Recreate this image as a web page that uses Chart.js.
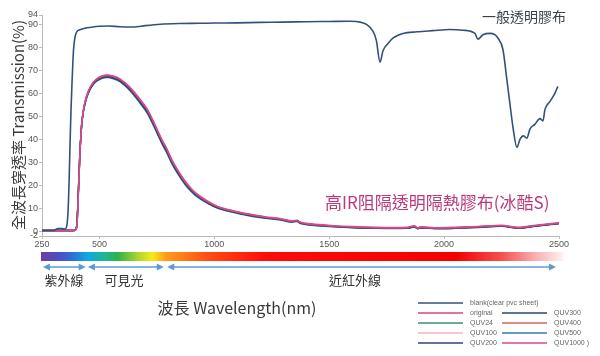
<!DOCTYPE html>
<html><head><meta charset="utf-8">
<script src="https://cdn.jsdelivr.net/npm/chart.js@4/dist/chart.umd.min.js"></script>
<style>html,body{margin:0;padding:0;background:#fff}</style>
</head><body>
<canvas id="c" width="600" height="356"></canvas>
<script>
const xTicks=[250,500,1000,1500,2000,2500];
const yTicks=[-2,0,10,20,30,40,50,60,70,80,90,94];

const blankWl=[250,300,320,337,350,358,363,368,372,376,380,385,389,395,402,415,440,459,500,540,589,650,700,766,850,937,1000,1100,1200,1300,1400,1500,1590,1640,1664,1690,1705,1721,1734,1755,1777,1821,1882,1950,2025,2082,2134,2147,2169,2199,2220,2234,2256,2273,2287,2300,2317,2330,2345,2360,2374,2395,2417,2430,2439,2461,2482,2495];
const blankT=[0.4,0.4,1.2,1.2,1.0,2.5,8,22,38,52,63,75,81,85,86.8,87.6,88.3,88.6,89.1,89.2,88.9,88.8,89.4,90,90.3,90.4,90.5,90.6,90.8,90.9,91.1,91.2,91.3,90.8,89.8,87,83,73.5,78.5,81.5,84,86,86.7,87.2,87.7,87.4,86,83.5,85.4,86,85.5,84,79,66,55,45,36.5,40,41.5,40.5,44.5,46.5,49,48,53,56.5,60,63];

const irWl=[250,300,350,385,392,398,401,404,408,412,415,419,423,430,437,447,459,473,488,510,535,560,589,615,646,675,707,730,750,772,794,815,837,860,881,910,938,975,1012,1060,1112,1160,1220,1286,1340,1360,1375,1420,1520,1600,1700,1780,1840,1870,1885,1900,1960,2050,2150,2250,2320,2400,2500];
const original=[0.4,0.4,0.4,0.4,0.5,1,2,6,16,26,34,41,47,52.5,56,59.5,62.3,64.5,66,67.2,67.7,67.2,66,64,60.8,57.2,52.9,48.5,44.2,39.5,35.4,30.8,26.9,23.3,20.4,17.2,15,12.6,10.8,9.3,8.1,7.2,6.2,5.4,4.4,4.7,3.8,3.1,2.3,1.9,1.6,1.5,1.6,2.3,1.4,1.8,1.4,1.6,2.0,2.5,1.6,2.5,3.6];
const quv24=[0.4,0.4,0.4,0.4,0.5,1.1,2.2,6.3,16.3,26.3,34.1,41,46.9,52.3,55.8,59.3,62.1,64.3,65.8,67,67.4,66.9,65.7,63.7,60.5,56.8,52.5,48.1,43.8,39.1,35,30.5,26.6,23,20.1,17,14.8,12.4,10.6,9.2,8,7.1,6.1,5.3,4.3,4.6,3.7,3,2.2,1.8,1.5,1.4,1.5,2.2,1.3,1.7,1.3,1.5,1.9,2.4,1.5,2.4,3.5];
const quv100=[0.4,0.4,0.4,0.4,0.5,1,2.1,6.1,16.1,26.1,34,41,47,52.4,55.9,59.4,62.2,64.4,65.9,67.1,67.6,67.1,65.9,63.9,60.7,57,52.7,48.3,44,39.3,35.2,30.7,26.8,23.2,20.3,17.1,14.9,12.5,10.7,9.2,8,7.1,6.1,5.3,4.4,4.7,3.8,3.1,2.3,1.9,1.6,1.5,1.6,2.3,1.4,1.8,1.4,1.6,2.0,2.5,1.6,2.5,3.6];
const quv200=[0.4,0.4,0.4,0.4,0.5,1.1,2.3,6.6,16.6,26.6,34.3,41,46.8,52.2,55.7,59.2,62,64.2,65.7,66.9,67.3,66.8,65.6,63.5,60.3,56.6,52.3,47.9,43.6,38.9,34.8,30.3,26.4,22.8,20,16.8,14.6,12.3,10.5,9.1,7.9,7,6,5.2,4.3,4.6,3.7,3,2.2,1.8,1.5,1.4,1.5,2.1,1.3,1.7,1.3,1.5,1.9,2.4,1.5,2.4,3.5];
const quv300=[0.4,0.4,0.4,0.4,0.5,1.2,2.5,7,17,27,34.5,41,46.5,52,55.5,59,61.8,64,65.5,66.7,67.1,66.6,65.3,63.2,60,56.3,51.9,47.5,43.2,38.5,34.4,29.9,26,22.5,19.7,16.6,14.4,12.1,10.3,8.9,7.7,6.8,5.9,5.1,4.2,4.5,3.6,2.9,2.1,1.7,1.4,1.3,1.4,2.0,1.2,1.6,1.2,1.4,1.8,2.3,1.4,2.3,3.4];
const quv400=[0.4,0.4,0.4,0.4,0.5,0.9,1.9,5.8,15.6,25.6,33.6,40.8,46.9,52.4,56,59.5,62.3,64.5,66,67.2,67.7,67.2,66,64,60.8,57.1,52.8,48.4,44.1,39.4,35.3,30.8,26.9,23.3,20.4,17.2,15,12.6,10.8,9.3,8.1,7.2,6.2,5.4,4.4,4.7,3.8,3.1,2.3,1.9,1.6,1.5,1.6,2.3,1.4,1.8,1.4,1.6,2.0,2.5,1.6,2.5,3.6];
const quv500=[0.4,0.4,0.4,0.4,0.6,1.3,2.8,7.5,17.5,27.5,35,41.2,46.5,51.8,55.2,58.7,61.5,63.7,65.2,66.4,66.8,66.3,65,62.9,59.6,55.9,51.5,47,42.7,38,33.9,29.4,25.6,22.1,19.3,16.3,14.1,11.9,10.1,8.7,7.5,6.6,5.7,4.9,4.0,4.3,3.4,2.7,2.0,1.6,1.3,1.2,1.3,1.9,1.1,1.5,1.1,1.3,1.7,2.2,1.3,2.2,3.3];
const quv1000=[0.4,0.4,0.4,0.4,0.5,0.9,1.8,5.5,15.2,25.2,33.3,40.6,46.8,52.5,56.2,59.8,62.6,64.8,66.3,67.5,68,67.5,66.3,64.3,61.2,57.6,53.3,48.9,44.6,39.9,35.8,31.2,27.3,23.7,20.8,17.5,15.3,12.9,11,9.5,8.3,7.4,6.4,5.6,4.6,4.9,4,3.3,2.5,2.1,1.8,1.7,1.8,2.5,1.6,2,1.6,1.8,2.2,2.7,1.8,2.7,3.8];

const seriesNames=['blank(clear pvc sheet)','original','QUV24','QUV100','QUV200','QUV300','QUV400','QUV500','QUV1000 )'];
const seriesColors=['#34507c','#d6457f','#3a8f75','#f2b3bf','#3c3f7a','#254a6e','#d9606a','#3a78b0','#d84a8a'];
const irSeries=[original,quv24,quv100,quv200,quv300,quv400,quv500,quv1000];
const irOrder=[2,8,7,4,3,6,5,1];

const bandLabels=['紫外線','可見光','近紅外線'];
const bandRanges=[[254,440],[450,780],[795,2487]];
const noteBlank='一般透明膠布';
const noteIR='高IR阻隔透明隔熱膠布(冰酷S)';
const xTitle='波長 Wavelength(nm)';
const yTitle='全波長穿透率 Transmission(%)';

const CJK='"Noto Sans CJK TC","Noto Sans CJK SC",sans-serif';

const datasets=[{
  label:seriesNames[0],
  data:blankWl.map((w,i)=>({x:w,y:blankT[i]})),
  borderColor:seriesColors[0],borderWidth:1.6,pointRadius:0,cubicInterpolationMode:'monotone',order:0
}];
irSeries.forEach((arr,k)=>{
  datasets.push({
    label:seriesNames[k+1],
    data:irWl.map((w,i)=>({x:w,y:arr[i]})),
    borderColor:seriesColors[k+1],borderWidth:1.4,pointRadius:0,cubicInterpolationMode:'monotone',order:irOrder[k]
  });
});

const extras={
  id:'extras',
  afterDraw(chart){
    const ctx=chart.ctx, xs=chart.scales.x;
    ctx.save();
    const x0=xs.getPixelForValue(250)-1, x1=xs.getPixelForValue(2520);
    const g=ctx.createLinearGradient(x0,0,x1,0);
    const stops=[[250,'#6b3fa0'],[330,'#4b4fc8'],[380,'#2f6fd6'],[450,'#10a8e0'],[520,'#1fb59a'],[580,'#2db34a'],[675,'#b6d82a'],[730,'#f5ea1a'],[790,'#ff9a1a'],[980,'#ff4a14'],[1230,'#ff0a0a'],[2050,'#f50000'],[2250,'#f55050'],[2400,'#f9b0b0'],[2520,'#fff4f4']];
    stops.forEach(s=>g.addColorStop((xs.getPixelForValue(s[0])-x0)/(x1-x0),s[1]));
    ctx.fillStyle=g;
    ctx.fillRect(x0,252,x1-x0,9);
    ctx.strokeStyle='#5b9bd5';ctx.fillStyle='#5b9bd5';ctx.lineWidth=1.5;
    const ay=267;
    bandRanges.forEach(r=>{
      const a=xs.getPixelForValue(r[0]), b=xs.getPixelForValue(r[1]);
      ctx.beginPath();ctx.moveTo(a+3,ay);ctx.lineTo(b-3,ay);ctx.stroke();
      ctx.beginPath();ctx.moveTo(a,ay);ctx.lineTo(a+7,ay-3.5);ctx.lineTo(a+7,ay+3.5);ctx.closePath();ctx.fill();
      ctx.beginPath();ctx.moveTo(b,ay);ctx.lineTo(b-7,ay-3.5);ctx.lineTo(b-7,ay+3.5);ctx.closePath();ctx.fill();
    });
    ctx.fillStyle='#333';ctx.font='13px '+CJK;ctx.textBaseline='middle';ctx.textAlign='center';
    ctx.fillText(bandLabels[0],64,280);
    ctx.fillText(bandLabels[1],124,280);
    ctx.fillText(bandLabels[2],355,280);
    ctx.fillStyle='#3a3a3a';ctx.font='16px '+CJK;
    ctx.fillText(xTitle,237,308);
    ctx.save();ctx.translate(18,125);ctx.rotate(-Math.PI/2);ctx.font='15px '+CJK;ctx.fillText(yTitle,0,0);ctx.restore();
    ctx.fillStyle='#3a4250';ctx.font='14px '+CJK;ctx.textAlign='left';
    ctx.fillText(noteBlank,482,17);
    ctx.fillStyle='#b93a7c';ctx.font='17px '+CJK;
    ctx.fillText(noteIR,325,203);
    ctx.font='7px "Liberation Sans",Arial,sans-serif';ctx.fillStyle='#666';
    const pos=[[418,303],[418,313],[418,323],[418,333],[418,343],[502,313],[502,323],[502,333],[502,343]];
    pos.forEach((p,i)=>{
      ctx.strokeStyle=seriesColors[i];ctx.lineWidth=1.5;
      ctx.beginPath();ctx.moveTo(p[0],p[1]);ctx.lineTo(p[0]+45,p[1]);ctx.stroke();
      ctx.fillText(seriesNames[i],p[0]+52,p[1]);
    });
    ctx.restore();
  }
};

new Chart(document.getElementById('c'),{
  type:'line',
  data:{datasets},
  options:{
    responsive:false,animation:false,devicePixelRatio:1,
    layout:{padding:{top:15,right:41,left:0,bottom:0}},
    plugins:{legend:{display:false},tooltip:{enabled:false}},
    scales:{
      x:{type:'linear',min:250,max:2500,
        afterBuildTicks:s=>{s.ticks=xTicks.map(v=>({value:v}));},
        afterFit:s=>{s.height=120;},
        grid:{drawOnChartArea:false,tickLength:3,color:'#bbb'},
        border:{color:'#bbb'},
        ticks:{padding:0,maxRotation:0,autoSkip:false,color:'#555',callback:v=>String(v),font:{size:9,family:'"Liberation Sans",Arial,sans-serif'}}},
      y:{type:'linear',min:-2,max:94,
        afterBuildTicks:s=>{s.ticks=yTicks.map(v=>({value:v}));},
        afterFit:s=>{s.width=42;},
        grid:{drawOnChartArea:false,tickLength:3,color:'#bbb'},
        border:{color:'#bbb'},
        ticks:{padding:1,autoSkip:false,color:'#555',callback:v=>String(v),font:{size:9,family:'"Liberation Sans",Arial,sans-serif'}}}
    }
  },
  plugins:[extras]
});
</script>
</body></html>
